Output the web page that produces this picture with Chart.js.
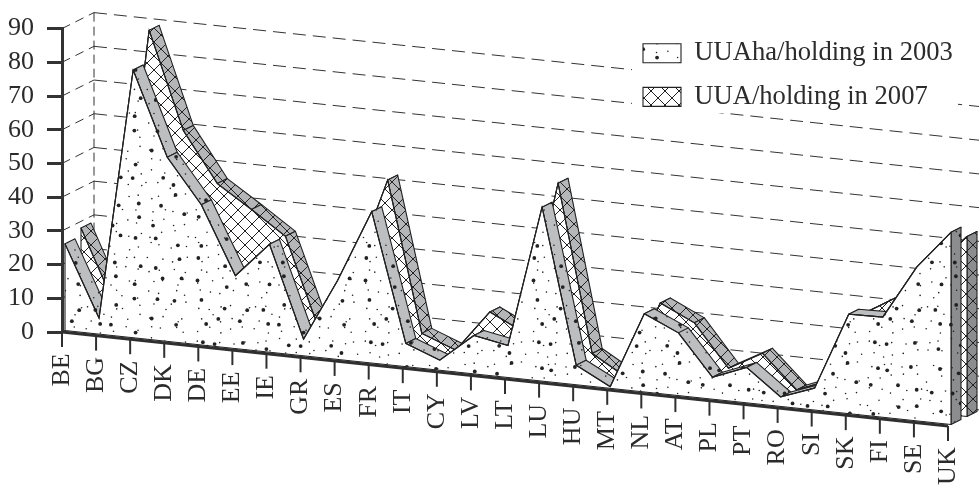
<!DOCTYPE html>
<html>
<head>
<meta charset="utf-8">
<script src="https://cdn.jsdelivr.net/npm/chart.js@4/dist/chart.umd.min.js"></script>
<style>
  html, body { margin: 0; padding: 0; background: #fff; }
  canvas { display: block; }
</style>
</head>
<body>
<canvas id="myChart" width="979" height="485"></canvas>
<script>
var countries = ['BE','BG','CZ','DK','DE','EE','IE','GR','ES','FR','IT','CY','LV','LT','LU','HU','MT','NL','AT','PL','PT','RO','SI','SK','FI','SE','UK'];
var uua2003 = [25.7,4.7,79.4,54.6,41.6,21.6,32,4.9,23.4,44.9,6.9,3,11.4,9.5,51.6,5.8,0.5,23.2,18.6,6.5,10.5,2.8,6.5,29.5,29.7,45.7,57];
var uua2007 = [28,6,88.8,60.2,45.5,38.9,32,5,23.8,51.9,7.5,3.6,16,11,56.3,6.9,0.9,24,19.2,6.8,12.3,2.5,6.5,27.5,33.5,43,53.4];
var legendLabels = ['UUAha/holding in 2003', 'UUA/holding in 2007'];

var FONT = '"Liberation Serif", "Times New Roman", serif';
var INK = '#2b2b2b';
var SLOPE = 94 / 886;     // how much the floor falls per px going right
var WALL = 32;            // depth of the back wall
// front and back depth of each series' slab, dataset order
var slabs = [
    { front: 3, back: 13, band: '#bcbec0', cap: '#8b8d8f' },
    { front: 19, back: 29, band: '#b4b6b8', cap: '#8b8d8f' }
];

// texture only, the scatter is the same on every run
function scatter(n) {
    var s = Math.sin(n * 12.9898) * 43758.5453;
    return s - Math.floor(s);
}

function dotLayer(g, cell, r, seed) {
    var count = 168 / cell;
    for (var a = 0; a < count; a++) {
        for (var b = 0; b < count; b++) {
            var n = seed + a * count + b;
            g.beginPath();
            g.arc((a + 0.15 + scatter(n) * 0.7) * cell, (b + 0.15 + scatter(n + 700) * 0.7) * cell, r, 0, Math.PI * 2);
            g.fill();
        }
    }
}

function dotTile(opaque) {
    var c = document.createElement('canvas');
    c.width = c.height = 168;
    var g = c.getContext('2d');
    if (opaque) { g.fillStyle = '#fff'; g.fillRect(0, 0, 168, 168); }
    g.fillStyle = '#222';
    dotLayer(g, 12, 0.8, 1);
    dotLayer(g, 21, 1.9, 300);
    return g.createPattern(c, 'repeat');
}

function hatchTile(opaque) {
    var c = document.createElement('canvas');
    c.width = c.height = 14;
    var g = c.getContext('2d');
    if (opaque) { g.fillStyle = '#fff'; g.fillRect(0, 0, 14, 14); }
    g.strokeStyle = '#222';
    g.lineWidth = 1;
    g.beginPath();
    g.moveTo(0, 0); g.lineTo(14, 14);
    g.moveTo(14, 0); g.lineTo(0, 14);
    g.stroke();
    return g.createPattern(c, 'repeat');
}

var faces = [dotTile(true), hatchTile(true)];
var overlays = [dotTile(false), hatchTile(false)];

function floorPoint(chart, i, v, d) {
    var px = chart.scales.x.getPixelForValue(i);
    return {
        x: px + d,
        y: chart.scales.y.getPixelForValue(v) + SLOPE * (px - chart.chartArea.left) - d / 2
    };
}

function path(ctx, pts) {
    ctx.beginPath();
    pts.forEach(function (p, n) { n ? ctx.lineTo(p.x, p.y) : ctx.moveTo(p.x, p.y); });
    ctx.closePath();
}

var depthPlugin = {
    id: 'depth',
    beforeDraw: function (chart) {
        var ctx = chart.ctx, area = chart.chartArea, y = chart.scales.y;

        // library axis labels, pushed down along the falling floor
        var items = chart.scales.x.getLabelItems(area);
        if (!items._moved) {
            items.forEach(function (it) {
                it.options.translation[1] += SLOPE * (it.options.translation[0] - area.left);
            });
            items._moved = true;
        }

        // legend sits on the wall, not where the layout puts it
        var lg = chart.legend;
        lg.left = 626; lg.top = 23; lg.right = 979; lg.bottom = 400;

        ctx.save();
        ctx.strokeStyle = '#333';
        ctx.lineWidth = 1;
        y.ticks.forEach(function (t) {
            var p = y.getPixelForValue(t.value);
            ctx.setLineDash([9, 6]);
            ctx.beginPath();
            ctx.moveTo(area.left, p);
            ctx.lineTo(area.left + WALL, p - WALL / 2);
            ctx.stroke();
            ctx.setLineDash([13, 7]);
            ctx.beginPath();
            ctx.moveTo(area.left + WALL, p - WALL / 2);
            ctx.lineTo(chart.width, p - WALL / 2 + SLOPE * (chart.width - area.left - WALL));
            ctx.stroke();
        });
        ctx.setLineDash([9, 5]);
        ctx.beginPath();
        ctx.moveTo(area.left + WALL, y.getPixelForValue(90) - WALL / 2);
        ctx.lineTo(area.left + WALL, y.getPixelForValue(0) - WALL / 2);
        ctx.stroke();
        ctx.setLineDash([]);
        ctx.fillStyle = '#fff';
        ctx.fillRect(632, 20, 326, 93);
        ctx.restore();
    },
    beforeDatasetDraw: function (chart, args) {
        var ctx = chart.ctx, slab = slabs[args.index];
        var vals = chart.data.datasets[args.index].data;
        var last = vals.length - 1;

        ctx.save();
        ctx.strokeStyle = '#222';
        ctx.lineWidth = 1.1;
        ctx.lineJoin = 'round';
        for (var i = 0; i < last; i++) {
            path(ctx, [
                floorPoint(chart, i, vals[i], slab.front),
                floorPoint(chart, i + 1, vals[i + 1], slab.front),
                floorPoint(chart, i + 1, vals[i + 1], slab.back),
                floorPoint(chart, i, vals[i], slab.back)
            ]);
            ctx.fillStyle = slab.band;
            ctx.fill();
            ctx.fillStyle = overlays[args.index];
            ctx.fill();
            ctx.stroke();
        }
        // end of the slab on the right
        path(ctx, [
            floorPoint(chart, last, vals[last], slab.front),
            floorPoint(chart, last, vals[last], slab.back),
            floorPoint(chart, last, 0, slab.back),
            floorPoint(chart, last, 0, slab.front)
        ]);
        ctx.fillStyle = slab.cap;
        ctx.fill();
        ctx.fillStyle = overlays[args.index];
        ctx.fill();
        ctx.stroke();
        // front face
        var face = vals.map(function (v, n) { return floorPoint(chart, n, v, slab.front); });
        face.push(floorPoint(chart, last, 0, slab.front));
        face.push(floorPoint(chart, 0, 0, slab.front));
        path(ctx, face);
        ctx.fillStyle = faces[args.index];
        ctx.fill();
        ctx.stroke();
        ctx.restore();

        // the dataset's own line, put on the same slanted plane
        ctx.save();
        ctx.transform(1, SLOPE, 0, 1, slab.front, -SLOPE * chart.chartArea.left - slab.front / 2);
    },
    afterDatasetDraw: function (chart) {
        chart.ctx.restore();
    },
    afterDraw: function (chart) {
        var ctx = chart.ctx, x = chart.scales.x, base = chart.chartArea.bottom, left = chart.chartArea.left;
        ctx.save();
        ctx.strokeStyle = '#2f2f2f';
        ctx.lineWidth = 2;
        x.ticks.forEach(function (t, i) {
            var px = x.getPixelForValue(i);
            var py = base + SLOPE * (px - left);
            ctx.beginPath();
            ctx.moveTo(px, py);
            ctx.lineTo(px, py + 15);
            ctx.stroke();
        });
        ctx.lineWidth = 3;
        ctx.beginPath();
        ctx.moveTo(left, base);
        ctx.lineTo(x.right, base + SLOPE * (x.right - left));
        ctx.stroke();
        ctx.restore();
    }
};

new Chart(document.getElementById('myChart').getContext('2d'), {
    type: 'line',
    plugins: [depthPlugin],
    data: {
        labels: countries,
        datasets: [
            { label: legendLabels[0], data: uua2003, backgroundColor: faces[0], borderColor: '#222', borderWidth: 1.1, pointRadius: 0, tension: 0, fill: false, clip: false },
            { label: legendLabels[1], data: uua2007, backgroundColor: faces[1], borderColor: '#222', borderWidth: 1.1, pointRadius: 0, tension: 0, fill: false, clip: false }
        ]
    },
    options: {
        responsive: false,
        animation: false,
        events: [],
        layout: { autoPadding: false, padding: { top: 25, right: 31, left: 0, bottom: 0 } },
        plugins: {
            tooltip: { enabled: false },
            legend: {
                position: 'chartArea',
                align: 'start',
                labels: {
                    boxWidth: 38,
                    boxHeight: 19,
                    padding: 17,
                    color: INK,
                    font: { family: FONT, size: 26.6 }
                }
            }
        },
        scales: {
            x: {
                type: 'category',
                offset: false,
                afterFit: function (s) { s.height = 153; s.paddingRight = 0; s.paddingLeft = 0; },
                border: { display: false },
                grid: { display: false, drawTicks: false },
                ticks: {
                    autoSkip: false,
                    minRotation: 90,
                    maxRotation: 90,
                    padding: 23,
                    color: INK,
                    font: { family: FONT, size: 26 }
                }
            },
            y: {
                min: 0,
                max: 90,
                afterFit: function (s) { s.width = 62; },
                border: { display: true, color: '#333', width: 3 },
                grid: { drawOnChartArea: false, drawTicks: true, tickLength: 15, tickWidth: 3, color: '#333' },
                ticks: {
                    stepSize: 10,
                    autoSkip: false,
                    padding: 13,
                    color: INK,
                    font: { family: FONT, size: 26 }
                }
            }
        }
    }
});
</script>
</body>
</html>
